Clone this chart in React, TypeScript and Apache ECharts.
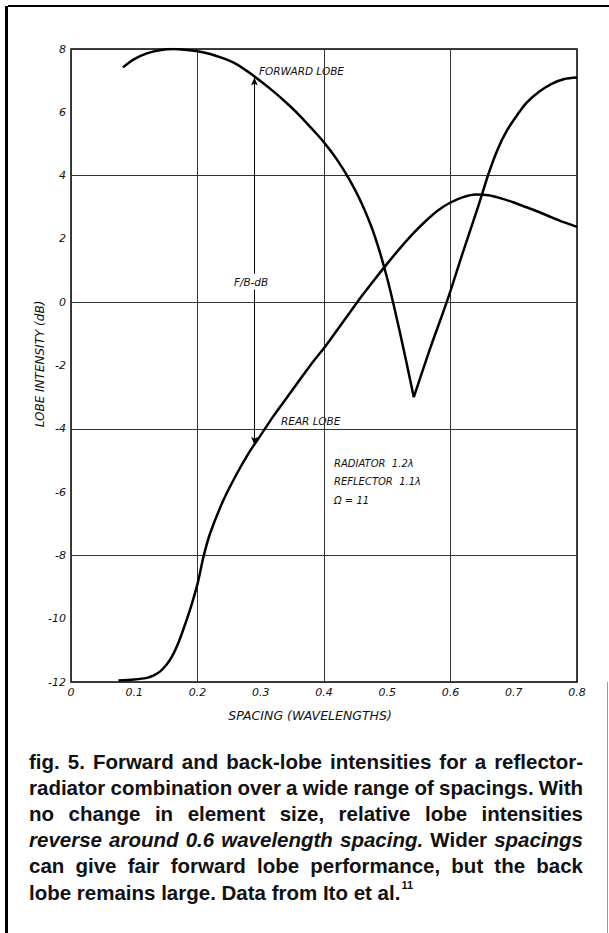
import React, { useEffect, useRef } from "react";
import * as echarts from "echarts";

// Spacing (wavelengths) vs lobe intensity (dB)
const forwardLobe: [number, number][] = [
  [0.082, 7.42], [0.1, 7.68], [0.12, 7.86], [0.14, 7.96], [0.162, 8.0],
  [0.18, 7.98], [0.2, 7.93], [0.22, 7.84], [0.24, 7.71], [0.26, 7.54],
  [0.28, 7.28], [0.3, 6.98], [0.32, 6.66], [0.34, 6.31], [0.36, 5.93],
  [0.38, 5.5], [0.4, 5.05], [0.42, 4.52], [0.44, 3.88], [0.46, 3.1],
  [0.48, 2.1], [0.5, 0.75], [0.52, -0.95], [0.542, -3.0], [0.568, -1.45],
  [0.594, 0.0], [0.62, 1.6], [0.645, 3.1], [0.66, 4.05], [0.675, 4.85],
  [0.69, 5.45], [0.705, 5.9], [0.72, 6.3], [0.74, 6.65], [0.76, 6.9],
  [0.78, 7.05], [0.8, 7.1],
];

const rearLobe: [number, number][] = [
  [0.075, -11.95], [0.1, -11.92], [0.12, -11.87], [0.13, -11.8], [0.14, -11.68],
  [0.15, -11.48], [0.16, -11.18], [0.17, -10.75], [0.18, -10.2], [0.19, -9.6],
  [0.2, -8.9], [0.21, -8.0], [0.22, -7.3], [0.24, -6.3], [0.26, -5.5],
  [0.28, -4.8], [0.3, -4.2], [0.32, -3.6], [0.34, -3.05], [0.36, -2.5],
  [0.38, -1.95], [0.4, -1.45], [0.42, -0.9], [0.44, -0.35], [0.46, 0.2],
  [0.48, 0.72], [0.5, 1.22], [0.52, 1.7], [0.54, 2.15], [0.56, 2.55],
  [0.58, 2.9], [0.6, 3.15], [0.62, 3.32], [0.64, 3.4], [0.66, 3.38],
  [0.68, 3.28], [0.7, 3.15], [0.72, 3.0], [0.74, 2.85], [0.76, 2.68],
  [0.78, 2.52], [0.8, 2.38],
];

// F/B arrow (x position, upper tip, lower tip, gap around label)
const fbArrowX = 0.29;
const fbArrowTop = 7.1;
const fbArrowBottom = -4.5;
const fbGap: [number, number] = [0.4, 0.9];

const xLabelText = "SPACING (WAVELENGTHS)";
const yLabelText = "LOBE INTENSITY (dB)";
const notes = ["RADIATOR  1.2\u03bb", "REFLECTOR  1.1\u03bb", "\u03a9 = 11"];

// caption lines: words, with "*" prefix marking italic words
const captionLines: string[][] = [
  "fig. 5. Forward and back-lobe intensities for a reflector-".split(" "),
  "radiator combination over a wide range of spacings. With".split(" "),
  "no change in element size, relative lobe intensities".split(" "),
  "*reverse *around *0.6 *wavelength *spacing. Wider *spacings".split(" "),
  "can give fair forward lobe performance, but the back".split(" "),
  "lobe remains large. Data from Ito et al.".split(" "),
];
const captionSup = "11";

const CAP_FONT = '"Liberation Sans", Arial, sans-serif';
const LBL_FONT = '"DejaVu Sans", sans-serif';

export default function App() {
  const ref = useRef<HTMLDivElement>(null);
  useEffect(() => {
    if (!ref.current) return;
    const chart = echarts.init(ref.current, undefined, { renderer: "svg" });

    const dipIdx = forwardLobe.reduce((b, p, i) => (p[1] < forwardLobe[b][1] ? i : b), 0);
    const fwdA = forwardLobe.slice(0, dipIdx + 1);
    const fwdB = forwardLobe.slice(dipIdx);

    // caption layout (justified)
    const canvas = document.createElement("canvas");
    const ctx = canvas.getContext("2d")!;
    const capSize = 20.5;
    const fontOf = (it: boolean, size = capSize) =>
      `${it ? "italic " : ""}bold ${size}px ${CAP_FONT}`;
    const measure = (t: string, it: boolean) => {
      ctx.font = fontOf(it);
      return ctx.measureText(t).width;
    };
    const capLeft = 29;
    const capRight = 583;
    const capTop = 761;
    const capStep = 26.2;
    const captionEls: any[] = [];
    captionLines.forEach((words, li) => {
      const ws = words.map((w) => ({ t: w.replace(/^\*/, ""), it: w.startsWith("*") }));
      const widths = ws.map((w) => measure(w.t, w.it));
      const total = widths.reduce((a, b) => a + b, 0);
      const last = li === captionLines.length - 1;
      const gap = last ? measure(" ", false) : (capRight - capLeft - total) / (ws.length - 1);
      let x = capLeft;
      const y = capTop + li * capStep;
      ws.forEach((w, i) => {
        captionEls.push({
          type: "text",
          x,
          y,
          silent: true,
          style: {
            text: w.t,
            font: fontOf(w.it),
            fill: "#111",
            align: "left",
            verticalAlign: "middle",
          },
        });
        x += widths[i] + (i < ws.length - 1 ? gap : 0);
      });
      if (last) {
        captionEls.push({
          type: "text",
          x: x + 1,
          y: y - 7,
          style: {
            text: captionSup,
            font: `bold 11px ${CAP_FONT}`,
            fill: "#111",
            align: "left",
            verticalAlign: "middle",
          },
        });
      }
    });

    const annStyle = (text: string, extra: any = {}) => ({
      text,
      fontFamily: LBL_FONT,
      fontStyle: "italic",
      fontSize: 10.5,
      fill: "#111",
      align: "left",
      verticalAlign: "middle",
      ...extra,
    });

    const lineStyle = { color: "#000", width: 2.5 };
    const arrowLine = {
      silent: true,
      symbol: ["none", "arrow"],
      symbolSize: [5, 8],
      label: { show: false },
      lineStyle: { color: "#000", width: 1, type: "solid" },
      data: [
        [{ coord: [fbArrowX, fbGap[1]] }, { coord: [fbArrowX, fbArrowTop] }],
        [{ coord: [fbArrowX, fbGap[0]] }, { coord: [fbArrowX, fbArrowBottom] }],
      ],
    };

    chart.setOption({
      animation: false,
      backgroundColor: "#fff",
      grid: {
        left: 71,
        top: 49,
        width: 506,
        height: 633,
        show: true,
        borderColor: "#000",
        borderWidth: 1.5,
        backgroundColor: "transparent",
      },
      xAxis: [
        {
          type: "value",
          min: 0,
          max: 0.8,
          interval: 0.1,
          axisLine: { show: false },
          axisTick: { show: false },
          splitLine: { show: false },
          axisLabel: {
            margin: 5,
            fontFamily: LBL_FONT,
            fontStyle: "italic",
            fontSize: 11,
            color: "#111",
            formatter: (v: number) => (v === 0 ? "0" : v.toFixed(1)),
          },
        },
        {
          type: "value",
          min: 0,
          max: 0.8,
          interval: 0.2,
          position: "bottom",
          axisLine: { show: false },
          axisTick: { show: false },
          axisLabel: { show: false },
          splitLine: { show: true, lineStyle: { color: "#333", width: 1 } },
        },
      ],
      yAxis: [
        {
          type: "value",
          min: -12,
          max: 8,
          interval: 2,
          axisLine: { show: false },
          axisTick: { show: false },
          splitLine: { show: false },
          axisLabel: {
            margin: 5,
            fontFamily: LBL_FONT,
            fontStyle: "italic",
            fontSize: 11,
            color: "#111",
          },
        },
        {
          type: "value",
          min: -12,
          max: 8,
          interval: 4,
          position: "left",
          axisLine: { show: false },
          axisTick: { show: false },
          axisLabel: { show: false },
          splitLine: { show: true, lineStyle: { color: "#333", width: 1 } },
        },
      ],
      series: [
        {
          name: "Forward lobe",
          type: "line",
          data: fwdA,
          smooth: 0.3,
          showSymbol: false,
          lineStyle,
          itemStyle: { color: "#000" },
          markLine: arrowLine,
        },
        {
          name: "Forward lobe (b)",
          type: "line",
          data: fwdB,
          smooth: 0.3,
          showSymbol: false,
          lineStyle,
          itemStyle: { color: "#000" },
        },
        {
          name: "Rear lobe",
          type: "line",
          data: rearLobe,
          smooth: 0.3,
          showSymbol: false,
          lineStyle,
          itemStyle: { color: "#000" },
        },
      ],
      graphic: [
        // page frame
        { type: "line", shape: { x1: 8, y1: 6, x2: 609, y2: 6 }, style: { stroke: "#000", lineWidth: 2 } },
        { type: "line", shape: { x1: 6.5, y1: 6, x2: 6.5, y2: 933 }, style: { stroke: "#000", lineWidth: 3 } },
        { type: "line", shape: { x1: 607.5, y1: 682, x2: 607.5, y2: 933 }, style: { stroke: "#999", lineWidth: 1 } },
        // annotations
        { type: "text", x: 259, y: 71, style: annStyle("FORWARD LOBE") },
        { type: "text", x: 251, y: 282, style: annStyle("F/B-dB", { align: "center" }) },
        { type: "text", x: 281, y: 421, style: annStyle("REAR LOBE") },
        ...notes.map((t, i) => ({
          type: "text",
          x: 334,
          y: 463 + i * 18.5,
          style: annStyle(t, { fontSize: 10 }),
        })),
        {
          type: "text",
          x: 310,
          y: 715,
          style: annStyle(xLabelText, { align: "center", fontSize: 12.5 }),
        },
        {
          type: "text",
          x: 40,
          y: 364,
          rotation: Math.PI / 2,
          style: annStyle(yLabelText, { align: "center", fontSize: 12 }),
        },
        ...captionEls,
      ],
    });
    return () => chart.dispose();
  }, []);
  return (
    <div
      ref={ref}
      style={{ position: "absolute", left: 0, top: 0, width: 609, height: 933, background: "#fff" }}
    />
  );
}
